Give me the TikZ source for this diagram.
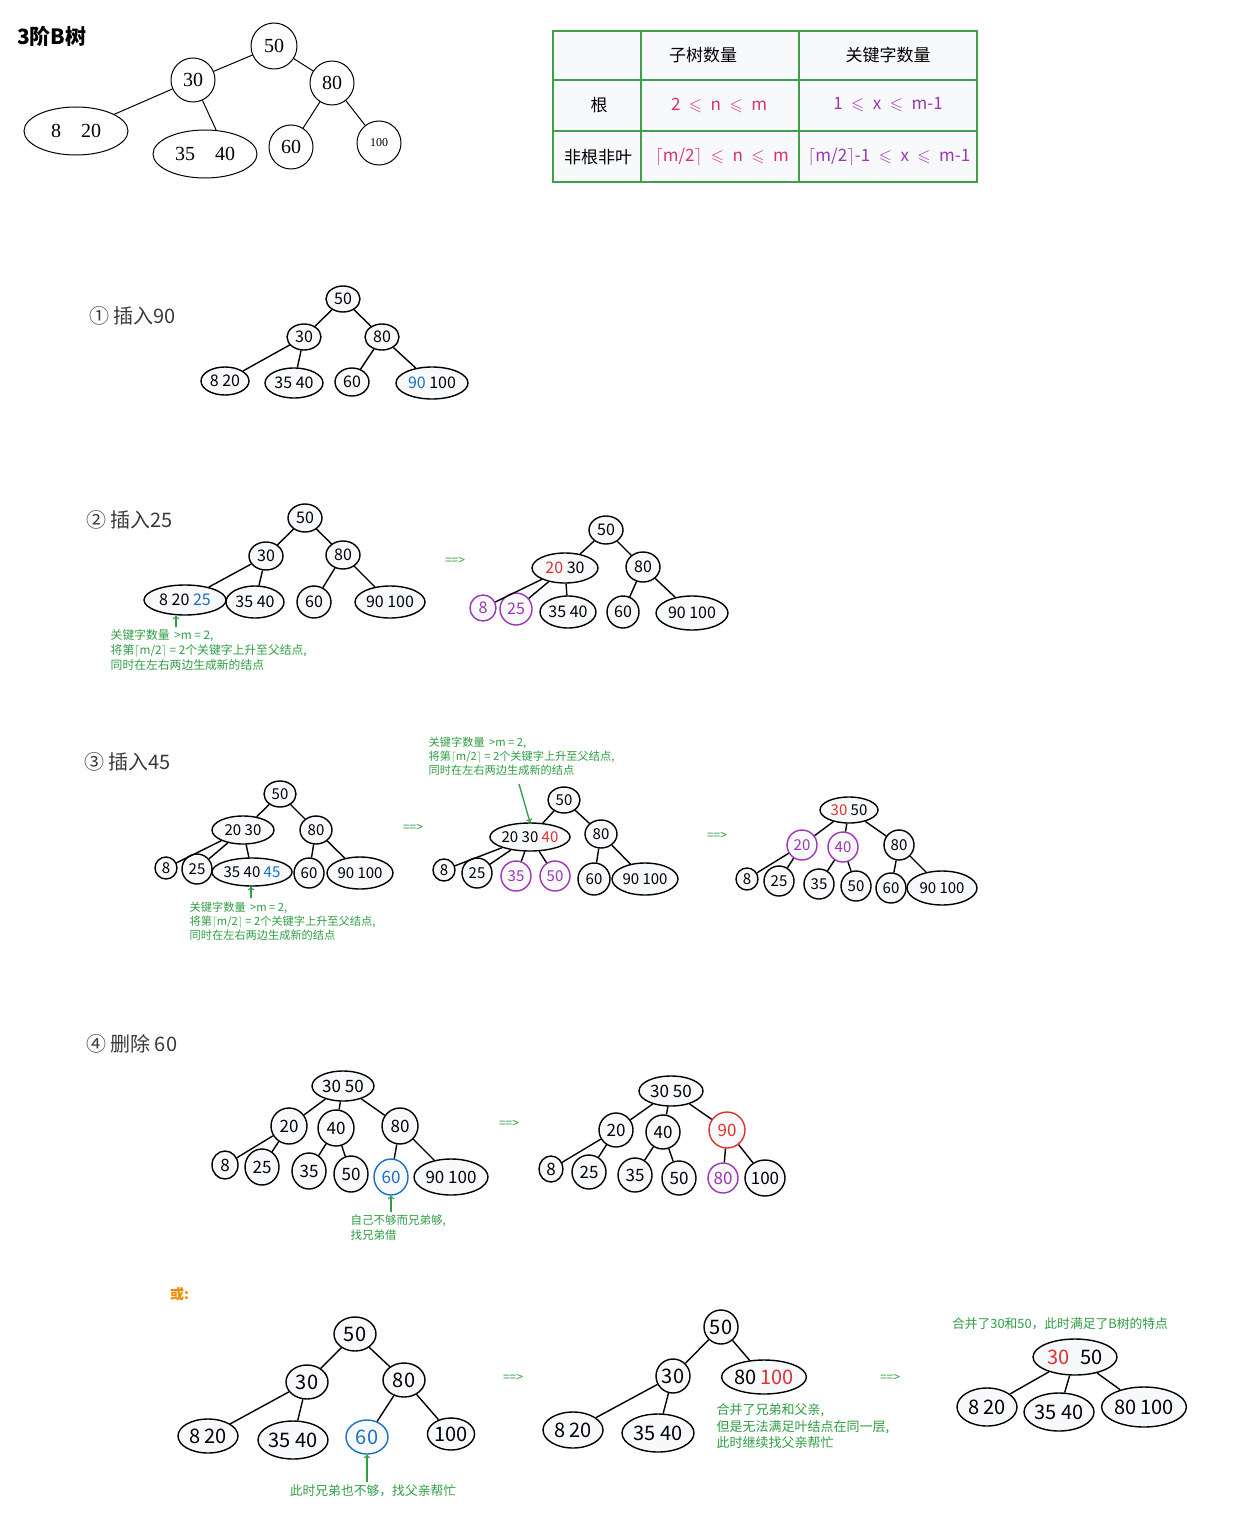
\documentclass[tikz,border=0pt]{standalone}
\usepackage{amsmath}
\usepackage{amssymb}
\usepackage{fontspec}
\setmainfont{Noto Sans CJK SC}
\newfontfamily\serifnum{Liberation Serif}
\usepackage{xcolor}
\usepackage{tikz}
\usetikzlibrary{shapes,arrows,positioning}

\definecolor{nodefill}{HTML}{F8F9FA}
\definecolor{notegreen}{HTML}{2F9E44}
\definecolor{tabgreen}{HTML}{40A04A}
\definecolor{kblue}{HTML}{1971C2}
\definecolor{kred}{HTML}{E03131}
\definecolor{kpurple}{HTML}{9C36B5}
\definecolor{kpink}{HTML}{D6336C}
\definecolor{korange}{HTML}{F08C00}
\definecolor{headgray}{HTML}{3A3A3A}

\begin{document}
\begin{tikzpicture}[x=1pt, y=-1pt, line width=1.4pt,
  kn/.style 2 args={draw, ellipse, fill=nodefill, minimum width=#1, minimum height=#2, inner sep=0pt},
  cn/.style={draw, circle, minimum size=#1, inner sep=0pt},
  heading/.style={anchor=west, text=headgray, font=\fontsize{20}{20}\selectfont},
  note/.style={anchor=north west, align=left, text=notegreen, inner sep=0pt},
  goes/.style={text=notegreen, font=\fontsize{12}{12}\selectfont},
  hintarrow/.style={->, draw=notegreen, line width=1.3pt}]
\path[use as bounding box, fill=white] (0,0) rectangle (1251,1514);

% B-tree of order 3
\node (title) [anchor=west, font=\bfseries\fontsize{21}{21}\selectfont] at (13,36) {3阶B树};
\begin{scope}[line width=1pt, font=\serifnum\fontsize{20}{20}\selectfont]
\node (o50) [cn=46] at (274,46) {50};
\node (o30) [cn=44] at (193,80) {30};
\node (o80) [cn=44] at (332,83) {80};
\node (o820) [draw, ellipse, minimum width=104, minimum height=48, inner sep=0pt] at (76,131) {8\quad 20};
\node (o3540) [draw, ellipse, minimum width=104, minimum height=48, inner sep=0pt] at (205,154) {35\quad 40};
\node (o60) [cn=44] at (291,147) {60};
\node (o100) [cn=44, font=\serifnum\fontsize{12}{12}\selectfont] at (379,143) {100};
\draw (o50) -- (o30);
\draw (o50) -- (o80);
\draw (o30) -- (o820);
\draw (o30) -- (o3540.65);
\draw (o80) -- (o60);
\draw (o80) -- (o100);
\end{scope}

% limits table
\draw[tabgreen, line width=1.6pt, fill=nodefill] (553,31) rectangle (977,182);
\draw[tabgreen, line width=1.6pt] (641,31) -- (641,182) (799,31) -- (799,182) (553,80) -- (977,80) (553,131) -- (977,131);
\begin{scope}[font=\fontsize{17}{17}\selectfont]
\node (thsub) at (703,55) {子树数量};
\node (thkey) at (888,55) {关键字数量};
\node (troot) at (599,105) {根};
\node (trootn) [text=kpink] at (719,105) {2\enspace$\leqslant$\enspace n\enspace$\leqslant$\enspace m};
\node (trootx) [text=kpurple] at (888,105) {1\enspace$\leqslant$\enspace x\enspace$\leqslant$\enspace m-1};
\node (tmid) at (598,157) {非根非叶};
\node (tmidn) [text=kpink] at (722,157) {$\lceil$m/2$\rceil$\enspace$\leqslant$\enspace n\enspace$\leqslant$\enspace m};
\node (tmidx) [text=kpurple] at (889,157) {$\lceil$m/2$\rceil$-1\enspace$\leqslant$\enspace x\enspace$\leqslant$\enspace m-1};
\end{scope}

% 1: insert 90
\node (h1) [heading] at (85,316) {① 插入90};
\begin{scope}[font=\fontsize{16}{16}\selectfont]
\node (a50) [kn={34}{26}] at (343,299) {50};
\node (a30) [kn={34}{26}] at (304,337) {30};
\node (a80) [kn={34}{26}] at (382,337) {80};
\node (a820) [kn={48}{28}] at (225,381) {8 20};
\node (a3540) [kn={58}{30}] at (294,383) {35 40};
\node (a60) [kn={34}{28}] at (352,382) {60};
\node (a90100) [kn={72}{32}] at (432,383) {\textcolor{kblue}{90} 100};
\end{scope}
\draw (a50) -- (a30);
\draw (a50) -- (a80);
\draw (a30) -- (a820);
\draw (a30) -- (a3540);
\draw (a80) -- (a60);
\draw (a80) -- (a90100);

% 2: insert 25
\node (h2) [heading] at (82,520) {② 插入25};
\begin{scope}[font=\fontsize{16}{16}\selectfont]
\node (b50) [kn={34}{28}] at (305,518) {50};
\node (b30) [kn={34}{28}] at (266,556) {30};
\node (b80) [kn={34}{28}] at (343,555) {80};
\node (b82025) [kn={82}{30}] at (185,600) {8 20 \textcolor{kblue}{25}};
\node (b3540) [kn={58}{32}] at (255,602) {35 40};
\node (b60) [kn={34}{32}] at (314,602) {60};
\node (b90100) [kn={70}{32}] at (390,602) {90 100};
\end{scope}
\draw (b50) -- (b30);
\draw (b50) -- (b80);
\draw (b30) -- (b82025);
\draw (b30) -- (b3540);
\draw (b80) -- (b60);
\draw (b80) -- (b90100);
\coordinate (btail) at (176,627);
\draw[hintarrow] (btail) -- (btail |- b82025.south);
\node (bnote) [note, font=\fontsize{11.8}{15}\selectfont] at (110,629) {关键字数量 \,>m = 2,\\将第$\lceil$m/2$\rceil$ = 2个关键字上升至父结点,\\同时在左右两边生成新的结点};
\node (bgo) [goes] at (455,561) {==>};
\begin{scope}[font=\fontsize{16}{16}\selectfont]
\node (c50) [kn={34}{28}] at (606,530) {50};
\node (c2030) [kn={66}{30}] at (565,568) {\textcolor{kred}{20} 30};
\node (c80) [kn={34}{30}] at (643,567) {80};
\node (c8) [kn={26}{26}, draw=kpurple, text=kpurple] at (483,608) {8};
\node (c25) [kn={32}{32}, draw=kpurple, text=kpurple] at (516,609) {25};
\node (c3540) [kn={56}{32}] at (568,612) {35 40};
\node (c60) [kn={32}{32}] at (623,612) {60};
\node (c90100) [kn={72}{34}] at (692,613) {90 100};
\end{scope}
\draw (c50) -- (c2030);
\draw (c50) -- (c80);
\draw (c2030) -- (c8);
\draw (c2030) -- (c25);
\draw (c2030) -- (c3540);
\draw (c80) -- (c60);
\draw (c80) -- (c90100);

% 3: insert 45
\node (h3) [heading] at (80,762) {③ 插入45};
\begin{scope}[font=\fontsize{15}{15}\selectfont]
\node (d50) [kn={32}{26}] at (280,794) {50};
\node (d2030) [kn={62}{28}] at (243,830) {20 30};
\node (d80) [kn={32}{28}] at (316,830) {80};
\node (d8) [kn={22}{22}] at (166,868) {8};
\node (d25) [kn={30}{30}] at (197,869) {25};
\node (d354045) [kn={74}{28}] at (252,872) {35 40 \textcolor{kblue}{45}};
\node (d60) [kn={30}{30}] at (309,873) {60};
\node (d90100) [kn={66}{32}] at (360,873) {90 100};
\end{scope}
\draw (d50) -- (d2030);
\draw (d50) -- (d80);
\draw (d2030) -- (d8);
\draw (d2030) -- (d25);
\draw (d2030) -- (d354045);
\draw (d80) -- (d60);
\draw (d80) -- (d90100);
\coordinate (dtail) at (251,898);
\draw[hintarrow] (dtail) -- (dtail |- d354045.south);
\node (dnote) [note, font=\fontsize{11.2}{14}\selectfont] at (189,901) {关键字数量 \,>m = 2,\\将第$\lceil$m/2$\rceil$ = 2个关键字上升至父结点,\\同时在左右两边生成新的结点};
\node (dgo) [goes] at (413,828) {==>};
\node (enote) [note, font=\fontsize{11.2}{14}\selectfont] at (428,736) {关键字数量 \,>m = 2,\\将第$\lceil$m/2$\rceil$ = 2个关键字上升至父结点,\\同时在左右两边生成新的结点};
\begin{scope}[font=\fontsize{15}{15}\selectfont]
\node (e50) [kn={32}{26}] at (564,800) {50};
\node (e203040) [kn={80}{28}] at (530,837) {20 30 \textcolor{kred}{40}};
\node (e80) [kn={32}{28}] at (601,834) {80};
\node (e8) [kn={22}{22}] at (444,870) {8};
\node (e25) [kn={30}{30}] at (477,873) {25};
\node (e35) [kn={30}{30}, draw=kpurple, text=kpurple] at (516,876) {35};
\node (e50b) [kn={30}{30}, draw=kpurple, text=kpurple] at (555,876) {50};
\node (e60) [kn={32}{32}] at (594,879) {60};
\node (e90100) [kn={66}{32}] at (645,879) {90 100};
\end{scope}
\draw (e50) -- (e203040);
\draw (e50) -- (e80);
\draw (e203040) -- (e8);
\draw (e203040) -- (e25);
\draw (e203040) -- (e35);
\draw (e203040) -- (e50b);
\draw (e80) -- (e60);
\draw (e80) -- (e90100);
\coordinate (etail) at (519,784);
\draw[hintarrow] (etail) -- (e203040.north);
\node (ego) [goes] at (717,836) {==>};
\begin{scope}[font=\fontsize{15}{15}\selectfont]
\node (f3050) [kn={58}{26}] at (849,810) {\textcolor{kred}{30} 50};
\node (f20) [kn={30}{30}, draw=kpurple, text=kpurple] at (802,845) {20};
\node (f40) [kn={30}{30}, draw=kpurple, text=kpurple] at (843,847) {40};
\node (f80) [kn={30}{30}] at (899,845) {80};
\node (f8) [kn={22}{22}] at (747,879) {8};
\node (f25) [kn={30}{30}] at (779,881) {25};
\node (f35) [kn={30}{30}] at (819,884) {35};
\node (f50) [kn={30}{30}] at (856,886) {50};
\node (f60) [kn={30}{30}] at (891,888) {60};
\node (f90100) [kn={70}{34}] at (942,888) {90 100};
\end{scope}
\draw (f3050) -- (f20);
\draw (f3050) -- (f40);
\draw (f3050) -- (f80);
\draw (f20) -- (f8);
\draw (f20) -- (f25);
\draw (f40) -- (f35);
\draw (f40) -- (f50);
\draw (f80) -- (f60);
\draw (f80) -- (f90100);

% 4: delete 60
\node (h4) [heading] at (82,1044) {④ 删除 60};
\begin{scope}[font=\fontsize{17}{17}\selectfont]
\node (g3050) [kn={62}{30}] at (343,1086) {30 50};
\node (g20) [kn={36}{36}] at (289,1126) {20};
\node (g40) [kn={36}{36}] at (336,1128) {40};
\node (g80) [kn={36}{36}] at (400,1126) {80};
\node (g8) [kn={26}{28}] at (225,1165) {8};
\node (g25) [kn={34}{36}] at (262,1167) {25};
\node (g35) [kn={34}{36}] at (309,1171) {35};
\node (g50) [kn={34}{36}] at (351,1174) {50};
\node (g60) [kn={34}{36}, draw=kblue, text=kblue] at (391,1177) {60};
\node (g90100) [kn={74}{36}] at (451,1177) {90 100};
\end{scope}
\draw (g3050) -- (g20);
\draw (g3050) -- (g40);
\draw (g3050) -- (g80);
\draw (g20) -- (g8);
\draw (g20) -- (g25);
\draw (g40) -- (g35);
\draw (g40) -- (g50);
\draw (g80) -- (g60);
\draw (g80) -- (g90100);
\coordinate (gtail) at (391,1212);
\draw[hintarrow] (gtail) -- (g60.south);
\node (gnote) [note, font=\fontsize{11.5}{15}\selectfont] at (350,1214) {自己不够而兄弟够,\\找兄弟借};
\node (ggo) [goes] at (509,1124) {==>};
\begin{scope}[font=\fontsize{17}{17}\selectfont]
\node (k3050) [kn={64}{30}] at (671,1091) {30 50};
\node (k20) [kn={34}{34}] at (616,1130) {20};
\node (k40) [kn={34}{34}] at (663,1132) {40};
\node (k90) [kn={36}{36}, draw=kred, text=kred] at (727,1130) {90};
\node (k8) [kn={24}{26}] at (551,1169) {8};
\node (k25) [kn={34}{34}] at (589,1172) {25};
\node (k35) [kn={34}{34}] at (635,1175) {35};
\node (k50) [kn={34}{34}] at (679,1178) {50};
\node (k80) [kn={30}{30}, draw=kpurple, text=kpurple] at (723,1178) {80};
\node (k100) [kn={36}{36}] at (765,1178) {100};
\end{scope}
\draw (k3050) -- (k20);
\draw (k3050) -- (k40);
\draw (k3050) -- (k90);
\draw (k20) -- (k8);
\draw (k20) -- (k25);
\draw (k40) -- (k35);
\draw (k40) -- (k50);
\draw (k90) -- (k80);
\draw (k90) -- (k100);

% or: merge with the parent
\node (orlabel) [anchor=west, text=korange, font=\bfseries\fontsize{14}{14}\selectfont] at (166,1294) {或:};
\begin{scope}[font=\fontsize{20}{20}\selectfont]
\node (m50) [kn={42}{34}] at (355,1334) {50};
\node (m30) [kn={42}{34}] at (307,1382) {30};
\node (m80) [kn={42}{34}] at (404,1380) {80};
\node (m820) [kn={60}{34}] at (208,1436) {8 20};
\node (m3540) [kn={70}{38}] at (293,1440) {35 40};
\node (m60) [kn={42}{34}, draw=kblue, text=kblue] at (367,1437) {60};
\node (m100) [kn={46}{32}] at (451,1434) {100};
\end{scope}
\draw (m50) -- (m30);
\draw (m50) -- (m80);
\draw (m30) -- (m820);
\draw (m30) -- (m3540);
\draw (m80) -- (m60);
\draw (m80) -- (m100);
\coordinate (mtail) at (367,1482);
\draw[hintarrow] (mtail) -- (m60.south);
\node (mnote) [text=notegreen, font=\fontsize{12.8}{12.8}\selectfont] at (373,1491) {此时兄弟也不够，找父亲帮忙};
\node (mgo) [goes] at (513,1378) {==>};
\begin{scope}[font=\fontsize{20}{20}\selectfont]
\node (n50) [kn={34}{34}] at (721,1327) {50};
\node (n30) [kn={34}{34}] at (673,1376) {30};
\node (n80100) [kn={64}{34}] at (764,1377) {80 \textcolor{kred}{100}};
\node (n820) [kn={60}{36}] at (573,1430) {8 20};
\node (n3540) [kn={72}{38}] at (658,1433) {35 40};
\end{scope}
\draw (n50) -- (n30);
\draw (n50) -- (n80100);
\draw (n30) -- (n820);
\draw (n30) -- (n3540);
\node (nnote) [note, font=\fontsize{13}{16.5}\selectfont] at (716,1403) {合并了兄弟和父亲,\\但是无法满足叶结点在同一层,\\此时继续找父亲帮忙};
\node (ngo) [goes] at (890,1378) {==>};
\node (pnote) [text=notegreen, font=\fontsize{12.8}{12.8}\selectfont] at (1060,1324) {合并了30和50，此时满足了B树的特点};
\begin{scope}[font=\fontsize{20}{20}\selectfont]
\node (p3050) [kn={84}{36}] at (1075,1357) {\textcolor{kred}{30}\; 50};
\node (p820) [kn={60}{38}] at (987,1407) {8 20};
\node (p3540) [kn={70}{38}] at (1059,1412) {35 40};
\node (p80100) [kn={80}{40}] at (1144,1407) {80 100};
\end{scope}
\draw (p3050) -- (p820);
\draw (p3050) -- (p3540);
\draw (p3050) -- (p80100);
\end{tikzpicture}
\end{document}
